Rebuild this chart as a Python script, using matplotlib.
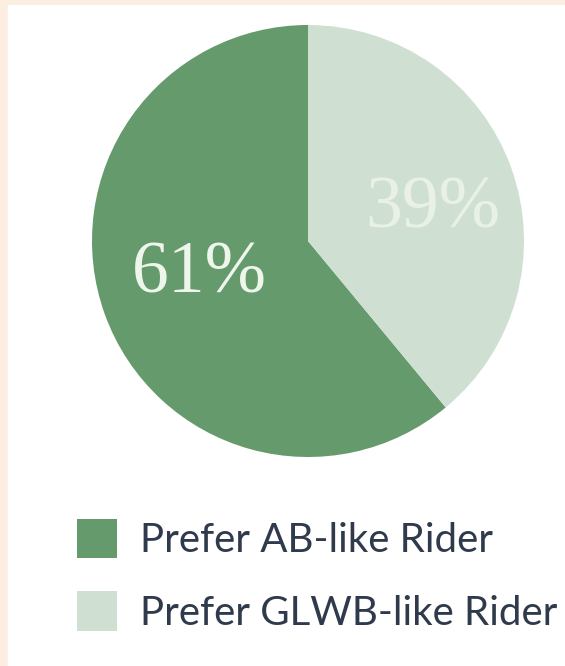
import matplotlib.pyplot as plt
from matplotlib.patches import Rectangle

# data
labels = ["Prefer AB-like Rider", "Prefer GLWB-like Rider"]
shares = [61, 39]
colors = ["#659a6c", "#cfe0d2"]
pct_colors = ["#eef5ea", "#e9f1e7"]

W, H = 565, 666
fig = plt.figure(figsize=(W / 100, H / 100), dpi=100)
fig.patch.set_facecolor("#fdeee2")
ax = fig.add_axes([0, 0, 1, 1])
ax.set_facecolor("none")

# white panel (peach strip left and top only)
ax.add_patch(Rectangle((8, 0), W - 8, H - 5, color="white", zorder=0))

cx, cy, r = 308, H - 241, 216
wedges, _, autotexts = ax.pie(shares, colors=colors, startangle=90, counterclock=True,
                              center=(cx, cy), radius=r, autopct="%d%%",
                              wedgeprops=dict(linewidth=0))
# percentage label positions (pixels, from top)
pct_pos = [(199, 275), (433, 210)]
for t, c, (px, py) in zip(autotexts, pct_colors, pct_pos):
    t.set_position((px, H - py))
    t.set_color(c)
    t.set_fontsize(53)
    t.set_family("Liberation Serif")
    t.set_ha("center")
    t.set_va("center")

fs = 29
ax.legend(wedges, labels, loc="upper left", bbox_to_anchor=(77 / W, 1 - 519 / H),
          frameon=False, prop={"family": "Lato", "size": fs},
          borderaxespad=0, borderpad=0,
          handlelength=1.0, handleheight=1.12, handletextpad=0.57, labelspacing=0.8,
          labelcolor="#2f3b4c")

ax.set_xlim(0, W)
ax.set_ylim(0, H)
ax.set_aspect("equal")
ax.axis("off")

fig.savefig("out.png", dpi=100, facecolor=fig.get_facecolor())
